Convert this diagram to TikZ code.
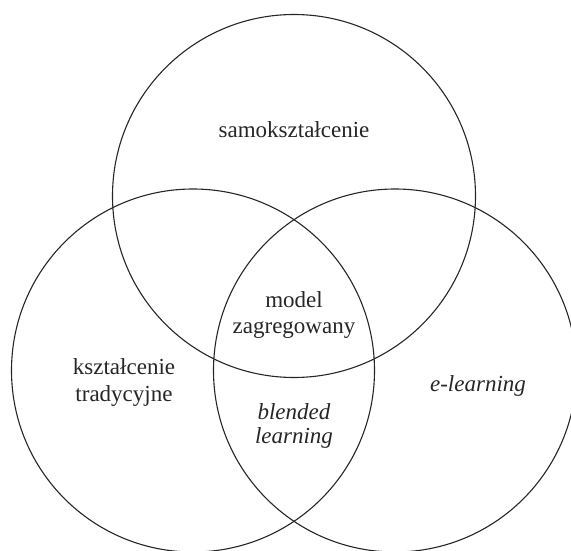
\documentclass[tikz,border=0pt]{standalone}
\usepackage{fontspec}
\setmainfont{Liberation Serif}
\begin{document}
\begin{tikzpicture}[x=1pt,y=-1pt,
  setring/.style={draw=black!85, line width=1.1pt},
  lbl/.style={anchor=base, inner sep=0pt, text=black!85, font=\fontsize{23}{27}\selectfont},
  ilbl/.style={lbl, font=\fontsize{23}{27}\selectfont\itshape}]
  \useasboundingbox (0,0) rectangle (571,551);
  % the three sets
  \node[setring, circle, minimum size=363pt, inner sep=0pt] (self) at (294,196) {};
  \node[setring, circle, minimum size=363pt, inner sep=0pt] (trad) at (193,370.5) {};
  \node[setring, circle, minimum size=363pt, inner sep=0pt] (elearn) at (395,370.5) {};
  % labels
  \node[lbl] (selfA) at (294,138) {samokształcenie};
  \node[lbl] (aggA) at (294,307) {model};
  \node[lbl] (aggB) at (294,333) {zagregowany};
  \node[lbl] (tradA) at (124,374) {kształcenie};
  \node[lbl] (tradB) at (124,401) {tradycyjne};
  \node[ilbl] (blendA) at (294,419) {blended};
  \node[ilbl] (blendB) at (294,443) {learning};
  \node[ilbl] (elearnA) at (478,391) {e-learning};
\end{tikzpicture}
\end{document}
